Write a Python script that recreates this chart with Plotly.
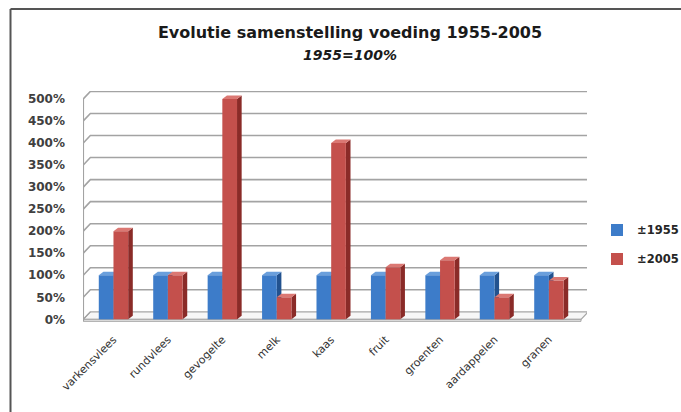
import plotly.graph_objects as go

categories = ["varkensvlees", "rundvlees", "gevogelte", "melk", "kaas",
              "fruit", "groenten", "aardappelen", "granen"]
values_1955 = [100, 100, 100, 100, 100, 100, 100, 100, 100]
values_2005 = [200, 100, 500, 50, 400, 118, 134, 50, 88]
y_ticks = [0, 50, 100, 150, 200, 250, 300, 350, 400, 450, 500]
y_ticktext = [f"{t}%" for t in y_ticks]

BLUE, BLUE_SIDE, BLUE_TOP = "#3d7cc9", "#22528f", "#6a9fdc"
RED, RED_SIDE, RED_TOP = "#c4504c", "#8a2b28", "#db7873"
FONT = "DejaVu Sans"

# geometry (data units)
BW = 0.27          # bar width
DXB, DYB = 0.085, 8   # bar depth offset
DXW, DYW = 0.13, 17   # wall depth offset
X0, X1 = -0.555, 8.59  # floor front edges

L, R, T, B = 83, 94, 90.6, 90.4
W, H = 681, 412
pw = W - L - R
ph = H - T - B

def px_x(px):
    return (px - L) / pw

def px_y(py):
    return (H - B - py) / ph

fig = go.Figure()
fig.add_trace(go.Bar(x=list(range(len(categories))), y=values_1955, name="±1955",
                     marker=dict(color=BLUE, line=dict(width=0)), legendgroup="a"))
fig.add_trace(go.Bar(x=list(range(len(categories))), y=values_2005, name="±2005",
                     marker=dict(color=RED, line=dict(width=0)), legendgroup="b"))

shapes = []
# outer border (top and left)
shapes.append(dict(type="line", xref="paper", yref="paper",
                   x0=px_x(10.5), x1=px_x(681), y0=px_y(8.5), y1=px_y(8.5),
                   line=dict(color="#555555", width=2), layer="below"))
shapes.append(dict(type="line", xref="paper", yref="paper",
                   x0=px_x(10.5), x1=px_x(10.5), y0=px_y(8.5), y1=px_y(412),
                   line=dict(color="#555555", width=2), layer="below"))
# floor slab
shapes.append(dict(type="path", xref="x", yref="y", layer="below",
                   path=f"M{X0},0 L{X1},0 L{X1+DXW},{DYW} L{X0+DXW},{DYW} Z",
                   fillcolor="#f7f7f7", line=dict(color="#a6a6a6", width=1.2)))
shapes.append(dict(type="path", xref="x", yref="y", layer="below",
                   path=f"M{X0},0 L{X1},0 L{X1},-4.5 L{X0},-4.5 Z",
                   fillcolor="#e4e4e4", line=dict(color="#a6a6a6", width=1)))
# gridlines on side wall and back wall
for t in y_ticks[1:]:
    shapes.append(dict(type="path", xref="x", yref="y", layer="below",
                       path=f"M{X0},{t} L{X0+DXW},{t+DYW} L{X1+DXW},{t+DYW}",
                       line=dict(color="#a3a3a3", width=1.6)))
shapes.append(dict(type="line", xref="x", yref="y", layer="below",
                   x0=X0, x1=X0, y0=-4.5, y1=500,
                   line=dict(color="#a3a3a3", width=1.6)))
shapes.append(dict(type="line", xref="x", yref="y", layer="below",
                   x0=X0, x1=X0 + DXW, y0=0, y1=DYW,
                   line=dict(color="#a3a3a3", width=1.2)))


def faces(xl, xr, v, side, top):
    out = []
    out.append(dict(type="path", xref="x", yref="y", layer="below",
                    path=f"M{xr},0 L{xr+DXB},{DYB} L{xr+DXB},{v+DYB} L{xr},{v} Z",
                    fillcolor=side, line=dict(width=0)))
    out.append(dict(type="path", xref="x", yref="y", layer="below",
                    path=f"M{xl},{v} L{xr},{v} L{xr+DXB},{v+DYB} L{xl+DXB},{v+DYB} Z",
                    fillcolor=top, line=dict(width=0)))
    return out

for i, v in enumerate(values_1955):
    shapes += faces(i - BW, i, v, BLUE_SIDE, BLUE_TOP)
for i, v in enumerate(values_2005):
    shapes += faces(i, i + BW, v, RED_SIDE, RED_TOP)

fig.update_layout(
    width=W, height=H,
    margin=dict(l=L, r=R, t=T, b=B, autoexpand=False),
    paper_bgcolor="white", plot_bgcolor="rgba(0,0,0,0)",
    barmode="group", bargap=0.46, bargroupgap=0,
    shapes=shapes,
    title=dict(text="<b>Evolutie samenstelling voeding 1955-2005</b>",
               x=350 / W, xanchor="center", y=1 - 32 / H, yanchor="middle",
               font=dict(family=FONT, size=16, color="#1a1a1a")),
    annotations=[dict(text="<b><i>1955=100%</i></b>", xref="paper", yref="paper",
                      x=px_x(350), y=px_y(55), xanchor="center", yanchor="middle",
                      showarrow=False,
                      font=dict(family=FONT, size=14, color="#1a1a1a"))],
    xaxis=dict(range=[-0.56, 8.70], tickmode="array",
               tickvals=list(range(len(categories))), ticktext=categories,
               tickangle=-45, showgrid=False, zeroline=False, showline=False,
               ticks="", ticklabelstandoff=8, automargin=False,
               tickfont=dict(family=FONT, size=11, color="#333333")),
    yaxis=dict(range=[-6, 518], tickmode="array", tickvals=y_ticks,
               ticktext=y_ticktext, showgrid=False, zeroline=False,
               showline=False, ticks="", ticklabelstandoff=17, automargin=False,
               tickfont=dict(family=FONT, size=12, color="#404040", weight="bold")),
    legend=dict(x=px_x(597), xanchor="left", y=px_y(215), yanchor="top",
                bgcolor="rgba(0,0,0,0)", tracegroupgap=10,
                font=dict(family=FONT, size=11.5, color="#262626", weight="bold")),
    showlegend=True,
)

fig.write_html("out.html", config={"displayModeBar": False},
               post_script="document.body.style.margin='0';document.body.style.overflow='hidden';")
